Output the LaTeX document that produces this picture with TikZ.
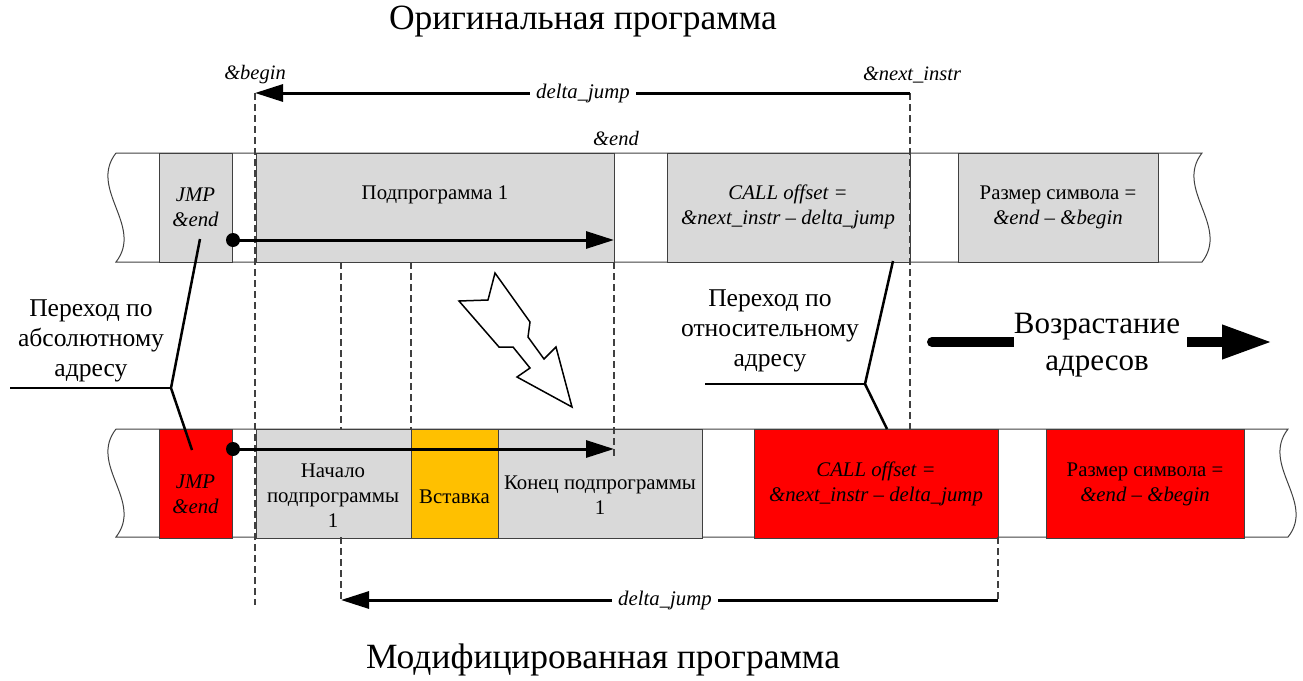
\documentclass[tikz,border=0pt]{standalone}
\usepackage{fontspec}
\setmainfont{LiberationSerif}[Extension=.ttf, UprightFont=*-Regular, ItalicFont=*-Italic, BoldFont=*-Bold, BoldItalicFont=*-BoldItalic]
\usetikzlibrary{arrows.meta}

\definecolor{boxgray}{HTML}{D9D9D9}
\definecolor{edgegray}{HTML}{404040}
\definecolor{insorange}{HTML}{FFC000}

\begin{document}
\begin{tikzpicture}[x=1pt,y=-1pt,
  cell/.style={draw=edgegray, line width=1.2pt, inner sep=0pt, minimum height=109pt, anchor=north west},
  graycell/.style={cell, fill=boxgray},
  redcell/.style={cell, fill=red},
  inscell/.style={cell, fill=insorange},
  celltext/.style={font=\fontsize{20.8}{25}\selectfont, align=center, inner sep=0pt},
  addrlabel/.style={font=\fontsize{20.5}{24}\selectfont\itshape, inner sep=0pt},
  jumplabel/.style={font=\fontsize{20.8}{24}\selectfont\itshape, fill=white, inner xsep=6pt, inner ysep=2pt},
  calltext/.style={font=\fontsize{25.6}{30}\selectfont, align=center, inner sep=0pt},
  titletext/.style={font=\fontsize{35.5}{40}\selectfont, inner sep=0pt},
  striplines/.style={draw=edgegray, line width=1pt},
  guide/.style={draw=edgegray, line width=1.1pt, dash pattern=on 7pt off 4pt},
  jumparrow/.style={line width=3pt, -{Triangle[length=28pt,width=17pt]}},
  callout/.style={line width=2.5pt, line join=miter},
]
\useasboundingbox (0,0) rectangle (1303,680);

% titles
\node[titletext] (ttop) at (583,22) {Оригинальная программа};
\node[titletext] (tbot) at (603,660) {Модифицированная программа};

% memory strips with torn ends
\path[striplines] (116,153) -- (1202,153)
  .. controls (1174,189) and (1230,226) .. (1202,262) -- (116,262)
  .. controls (144,226) and (88,189) .. (116,153);
\path[striplines] (116,429) -- (1288,429)
  .. controls (1260,465) and (1316,502) .. (1288,537) -- (116,537)
  .. controls (144,501) and (88,465) .. (116,429);

% original program cells
\node[graycell, minimum width=73pt]  (t1) at (159,153) {};
\node[graycell, minimum width=358pt] (t2) at (256,153) {};
\node[graycell, minimum width=243pt] (t3) at (667,153) {};
\node[graycell, minimum width=200pt] (t4) at (958,153) {};

% modified program cells
\node[redcell,  minimum width=73pt]  (b1) at (159,429) {};
\node[graycell, minimum width=155pt] (b2) at (256,429) {};
\node[inscell,  minimum width=87pt]  (b3) at (411,429) {};
\node[graycell, minimum width=204pt] (b4) at (498,429) {};
\node[redcell,  minimum width=244pt] (b5) at (754,429) {};
\node[redcell,  minimum width=198pt] (b6) at (1046,429) {};

% cell contents
\node[celltext] (t1txt) at (195.5,207) {\itshape JMP\\\itshape \&end};
\node[celltext] (t2txt) at (435,195) {Подпрограмма 1};
\node[celltext] (t3txt) at (788,207) {\itshape CALL offset =\\\itshape \&next\_instr – delta\_jump};
\node[celltext] (t4txt) at (1058,207) {Размер символа =\\\itshape \&end – \&begin};
\node[celltext] (b1txt) at (195.5,494) {\itshape JMP\\\itshape \&end};
\node[celltext] (b2txt) at (333,496) {Начало\\подпрограммы\\1};
\node[celltext] (b3txt) at (454.5,497) {Вставка};
\node[celltext] (b4txt) at (600,495) {Конец подпрограммы\\1};
\node[celltext] (b5txt) at (876,484) {\itshape CALL offset =\\\itshape \&next\_instr – delta\_jump};
\node[celltext] (b6txt) at (1145,484) {Размер символа =\\\itshape \&end – \&begin};

% address marks
\node[addrlabel] (abegin) at (255,75) {\&begin};
\node[addrlabel] (anext) at (912,75) {\&next\_instr};
\node[addrlabel] (aend) at (616,138) {\&end};

% guide lines
\coordinate (gbegtop) at (255,93);
\coordinate (gbegbot) at (255,605);
\coordinate (gnexttop) at (910,93);
\coordinate (gnextbot) at (910,429);
\coordinate (gendtop) at (614,262);
\coordinate (gendbot) at (614,457);
\coordinate (gcalltop) at (998,537);
\coordinate (gcallbot) at (998,600);
\coordinate (gsplit1) at (341,262);
\coordinate (gsplit2) at (341,429);
\coordinate (gsplit3) at (341,537);
\coordinate (gsplit4) at (341,600);
\coordinate (ginstop) at (411,262);
\coordinate (ginsbot) at (411,429);
\draw[guide] (gbegtop) -- (gbegbot);
\draw[guide] (gnexttop) -- (gnextbot);
\draw[guide] (gendtop) -- (gendbot);
\draw[guide] (gcalltop) -- (gcallbot);
\draw[guide] (gsplit1) -- (gsplit2);
\draw[guide] (gsplit3) -- (gsplit4);
\draw[guide] (ginstop) -- (ginsbot);

% relative jump distances
\draw[jumparrow] (gnexttop) -- (gbegtop);
\node[jumplabel] (dj1) at (583,93) {delta\_jump};
\draw[jumparrow] (gcallbot) -- (gsplit4);
\node[jumplabel] (dj2) at (665,600) {delta\_jump};

% absolute jumps
\coordinate (jt) at (233,240);
\coordinate (jtend) at (614,240);
\coordinate (jb) at (233,449);
\coordinate (jbend) at (614,449);
\fill (jt) circle (7);
\draw[jumparrow] (jt) -- (jtend);
\fill (jb) circle (7);
\draw[jumparrow] (jb) -- (jbend);

% callouts
\node[calltext] (absnote) at (91,341) {Переход по\\абсолютному\\адресу};
\coordinate (absfork) at (171,388);
\coordinate (absleft) at (10,388);
\coordinate (abstop) at (200,239);
\coordinate (absbot) at (192,450);
\draw[callout] (absleft) -- (absfork);
\draw[callout] (abstop) -- (absfork) -- (absbot);

\node[calltext] (relnote) at (770,331) {Переход по\\относительному\\адресу};
\coordinate (relfork) at (865,384);
\coordinate (relleft) at (705,384);
\coordinate (reltop) at (893,261);
\coordinate (relbot) at (887,429);
\draw[callout] (relleft) -- (relfork);
\draw[callout] (reltop) -- (relfork) -- (relbot);

% transformation arrow
\draw[line width=1.5pt, fill=white, line join=miter] (495,273) -- (530,322) -- (528,337) -- (544,359)
  -- (556,347) -- (572,407) -- (517,377) -- (530,368) -- (513,347) -- (499,347)
  -- (459,301) -- (488,300) -- cycle;

% address growth direction
\node[font=\fontsize{31}{37}\selectfont, align=center, inner sep=0pt] (grow) at (1097,345) {Возрастание\\адресов};
\coordinate (growstart) at (932,342);
\coordinate (growmid) at (1187,342);
\coordinate (growtip) at (1272,342);
\fill (growstart) circle (5);
\draw[line width=10pt] (growstart) -- (grow.west |- growstart);
\draw[line width=10pt, -{Triangle[length=50pt,width=32pt]}] (growmid) -- (growtip);
\end{tikzpicture}
\end{document}
